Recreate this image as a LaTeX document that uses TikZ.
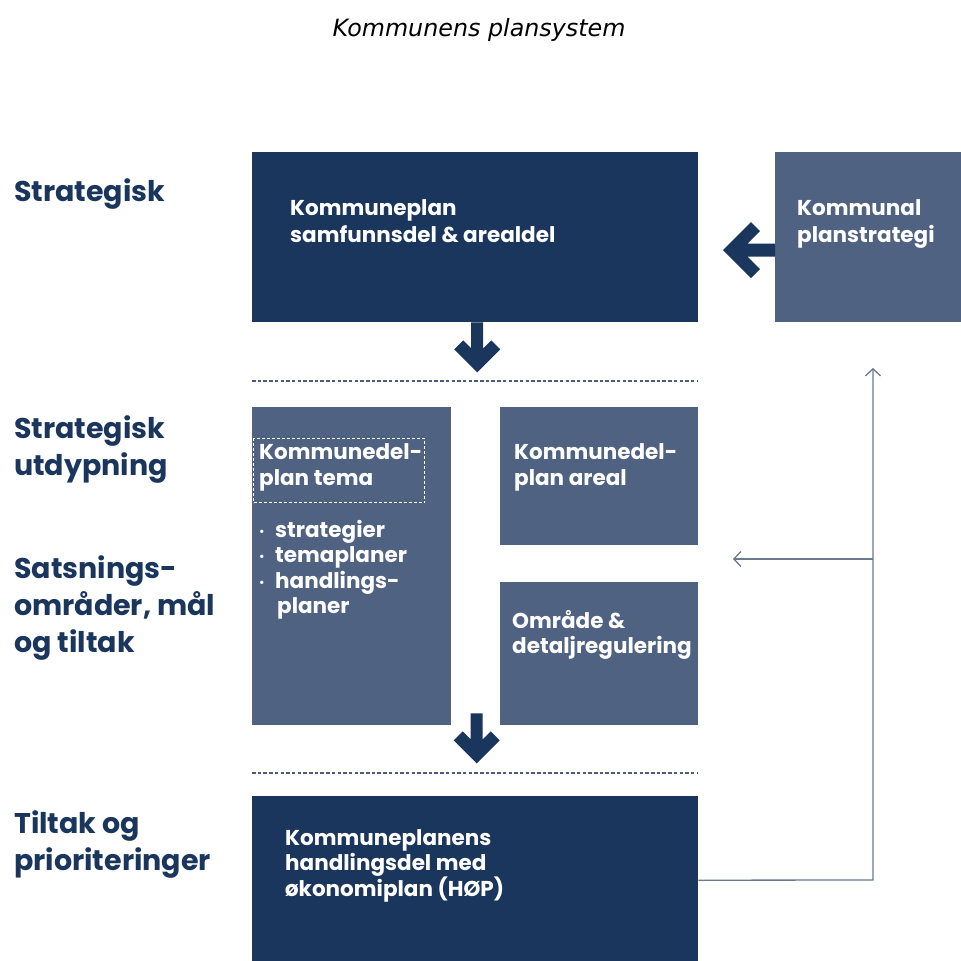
\documentclass[tikz,border=0pt]{standalone}
\usepackage{fontspec}
\setmainfont{Poppins}
\newfontfamily\titlefont{DejaVu Sans}
\usetikzlibrary{arrows.meta,calc}
\definecolor{navy}{HTML}{1B365D}
\definecolor{slate}{HTML}{506282}
\definecolor{linegray}{HTML}{6B7890}
\begin{document}
\begin{tikzpicture}[x=1pt,y=-1pt,
  navybox/.style={fill=navy, draw=none, anchor=north west, inner sep=0pt},
  slatebox/.style={fill=slate, draw=none, anchor=north west, inner sep=0pt},
  boxtext/.style={text=white, font=\bfseries\fontsize{21.5}{27}\selectfont, align=left, anchor=north west, inner sep=0pt},
  lbl/.style={text=navy, font=\bfseries\fontsize{28.5}{37}\selectfont, align=left, anchor=north west, inner sep=0pt},
  sepline/.style={draw=navy!80, line width=1.1pt, dash pattern=on 3.5pt off 2.2pt},
  fbline/.style={draw=linegray, line width=1.3pt},
  fbtip/.style={-{Straight Barb[length=7pt,width=15pt,line width=1.3pt]}},
  fat/.pic={\fill[navy] (-6,0) -- (6,0) -- (6,26) -- (14,18) -- (23,27) -- (0,50) -- (-23,27) -- (-14,18) -- (-6,26) -- cycle;},
  fatwide/.pic={\fill[navy] (-6.5,0) -- (6.5,0) -- (6.5,27.5) -- (19,15) -- (28,24) -- (0,52) -- (-28,24) -- (-19,15) -- (-6.5,27.5) -- cycle;}
]
\useasboundingbox (0,0) rectangle (961,961);
\fill[white] (0,0) rectangle (961,961);

% title
\node[font=\titlefont\itshape\fontsize{23.8}{28}\selectfont, anchor=base, inner sep=0pt] (title) at (479,36) {Kommunens plansystem};

% left labels
\node[lbl] (l1) at (14,178) {Strategisk};
\node[lbl] (l2) at (14,415) {Strategisk\\utdypning};
\node[lbl] (l3) at (14,555) {Satsnings-\\områder, mål\\og tiltak};
\node[lbl] (l4) at (14,810) {Tiltak og\\prioriteringer};

% boxes
\node[navybox, minimum width=446pt, minimum height=170pt] (kp) at (252,152) {};
\node[slatebox, minimum width=186pt, minimum height=170pt] (ps) at (775,152) {};
\node[slatebox, minimum width=199pt, minimum height=318pt] (tema) at (252,407) {};
\node[slatebox, minimum width=198pt, minimum height=138pt] (areal) at (500,407) {};
\node[slatebox, minimum width=198pt, minimum height=143pt] (omr) at (500,582) {};
\node[navybox, minimum width=446pt, minimum height=168pt] (hop) at (252,796) {};
\node[draw=white, line width=1.1pt, dash pattern=on 3pt off 2pt, anchor=north west, inner sep=0pt, minimum width=171pt, minimum height=64pt] (temabox) at (253,438) {};

% box texts
\node[boxtext] (kpt) at (290,199) {Kommuneplan\\samfunnsdel \& arealdel};
\node[boxtext] (pst) at (797,199) {Kommunal\\planstrategi};
\node[boxtext, font=\bfseries\fontsize{21.5}{26}\selectfont] (temat) at (259,443) {Kommunedel-\\plan tema};
\node[boxtext, font=\bfseries\fontsize{21.5}{25.5}\selectfont] (bul) at (259,520) {%
\makebox[16pt][l]{\raisebox{2pt}{\fontsize{11}{11}\selectfont\textbullet}}strategier\\
\makebox[16pt][l]{\raisebox{2pt}{\fontsize{11}{11}\selectfont\textbullet}}temaplaner\\
\makebox[16pt][l]{\raisebox{2pt}{\fontsize{11}{11}\selectfont\textbullet}}handlings-\\
\makebox[18pt][l]{}planer};
\node[boxtext, font=\bfseries\fontsize{21.5}{26}\selectfont] (arealt) at (514,443) {Kommunedel-\\plan areal};
\node[boxtext, font=\bfseries\fontsize{21.5}{25}\selectfont] (omrt) at (512,610) {Område \&\\detaljregulering};
\node[boxtext, font=\bfseries\fontsize{21.5}{25}\selectfont] (hopt) at (285,829) {Kommuneplanens\\handlingsdel med\\økonomiplan (HØP)};

% separators
\coordinate (s1a) at (252,381); \coordinate (s1b) at (698,381);
\coordinate (s2a) at (252,773); \coordinate (s2b) at (698,773);
\draw[sepline] (s1a) -- (s1b);
\draw[sepline] (s2a) -- (s2b);

% fat arrows
\pic at ($(kp.south)+(2,0)$) {fat};
\pic at ($($(tema.south east)!0.5!(omr.south west)$)+(1,-12)$) {fat};
\pic[rotate=-90] at ($(ps.west)+(0,13)$) {fatwide};

% feedback lines
\coordinate (corner) at (873,880);
\coordinate (up) at (873,368);
\coordinate (branch) at (873,559);
\coordinate (bend) at (733,559);
\draw[fbline, fbtip] (hop.east) -- (corner) -- (up);
\draw[fbline, fbtip] (branch) -- (bend);
\end{tikzpicture}
\end{document}
